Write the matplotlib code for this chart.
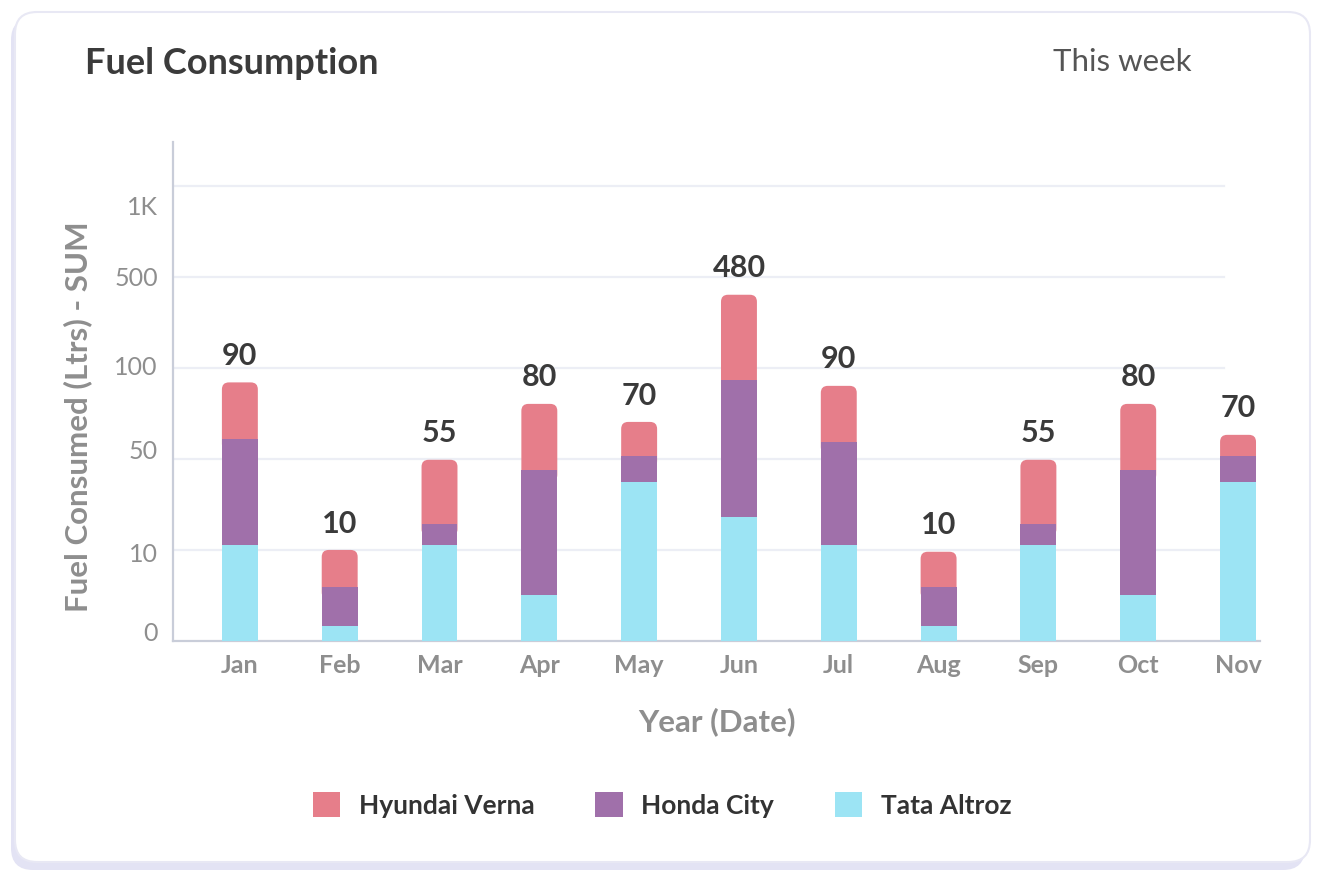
import matplotlib
matplotlib.use('Agg')
import matplotlib.pyplot as plt
import numpy as np
from matplotlib.patches import FancyBboxPatch
from matplotlib.transforms import ScaledTranslation, IdentityTransform

plt.rcParams['font.family'] = ['Lato', 'DejaVu Sans']

# data
months = ['Jan', 'Feb', 'Mar', 'Apr', 'May', 'Jun', 'Jul', 'Aug', 'Sep', 'Oct', 'Nov']
series_names = ['Hyundai Verna', 'Honda City', 'Tata Altroz']
tata = [12, 1.7, 12.2, 5.1, 40, 24.3, 12.2, 1.7, 12.2, 5.1, 40]
honda = [49, 4.2, 9.1, 40.1, 11.6, 69.1, 47.1, 4.2, 9.1, 40.1, 11.6]
hyundai = [31, 4.1, 28.3, 35, 18.7, 327.6, 30.8, 3.9, 28.3, 35, 11.6]
total_labels = [90, 10, 55, 80, 70, 480, 90, 10, 55, 80, 70]
tick_vals = [0, 10, 50, 100, 500, 1000]
tick_text = ['0', '10', '50', '100', '500', '1K']

# axis break points (evenly spaced on screen)
scale_vals = [0, 10, 50, 100, 500, 1000, 2000]
ytick_nudge_pt = [6.5, -2, 7, 2, 0, -14]

c_hyu = '#e67e8a'
c_hon = '#a070aa'
c_tata = '#9ce4f4'
grey = '#8e8e8e'

W, H = 1320, 872
fig = plt.figure(figsize=(W / 100, H / 100), dpi=100)
fig.patch.set_facecolor('white')

# card + shadow (pixel coords)
shadow = FancyBboxPatch((11, 2), 1294, 852, boxstyle='round,pad=0,rounding_size=22',
                        transform=IdentityTransform(), facecolor='#e3e3f4', edgecolor='none', zorder=-2)
card = FancyBboxPatch((15, 10), 1295, 850, boxstyle='round,pad=0,rounding_size=22',
                      transform=IdentityTransform(), facecolor='white', edgecolor='#e8e8f4',
                      linewidth=1.5, zorder=-1)
fig.patches.extend([shadow, card])

ax = fig.add_axes([173 / W, 1 - 641 / H, (1260 - 173) / W, (641 - 142) / H])
ax.set_facecolor('none')


def fwd(v):
    return np.interp(v, scale_vals, np.arange(len(scale_vals)))


def inv(u):
    return np.interp(u, np.arange(len(scale_vals)), scale_vals)


ax.set_yscale('function', functions=(fwd, inv))
ax.set_ylim(0, 1480)
ax.set_xlim(-0.67, 10.22)

x = np.arange(len(months))
w = 0.36
b_tata = ax.bar(x, tata, w, color=c_tata, zorder=3)
b_hon = ax.bar(x, honda, w, bottom=tata, color=c_hon, zorder=3)
bot = np.add(tata, honda)
b_hyu = ax.bar(x, hyundai, w, bottom=bot, color=c_hyu, zorder=2)

for v in tick_vals[1:]:
    ax.axhline(v, xmin=0, xmax=0.967, color='#eceef5', lw=1.6, zorder=1)

for s in ['top', 'right']:
    ax.spines[s].set_visible(False)
for s in ['left', 'bottom']:
    ax.spines[s].set_color('#c9cdd9')
    ax.spines[s].set_linewidth(1.6)

ax.set_yticks(tick_vals)
ax.set_yticklabels(tick_text)
ax.set_xticks(x)
ax.set_xticklabels(months)
ax.tick_params(axis='y', length=0, pad=11, labelsize=18, labelcolor=grey)
ax.tick_params(axis='x', length=0, pad=9, labelsize=18, labelcolor=grey)
for lab in ax.get_xticklabels():
    lab.set_fontweight('bold')
for lab, dy in zip(ax.get_yticklabels(), ytick_nudge_pt):
    lab.set_transform(lab.get_transform() + ScaledTranslation(0, dy / 72, fig.dpi_scale_trans))

ax.set_xlabel('Year (Date)', fontsize=22.5, fontweight='bold', color=grey)
ax.set_ylabel('Fuel Consumed (Ltrs) - SUM', fontsize=22.5, fontweight='bold', color=grey)
ax.xaxis.set_label_coords(0.5, -0.133)
ax.yaxis.set_label_coords(-0.074, 0.449)

tops = bot + np.array(hyundai)
for xi, t, lbl in zip(x, tops, total_labels):
    ax.annotate(str(lbl), (xi, t), xytext=(0, 19), textcoords='offset points',
                ha='center', va='center', fontsize=22, color='#3a3a3a', fontweight='bold')

fig.text(85 / W, 1 - 63 / H, 'Fuel Consumption', fontsize=26, fontweight='bold',
         color='#3b3b3b', va='center', ha='left')
fig.text(1192 / W, 1 - 62 / H, 'This week', fontsize=22.5, color='#555555', va='center', ha='right')

ax.legend(handles=[b_hyu, b_hon, b_tata], labels=series_names, loc='center',
          bbox_to_anchor=(662 / W, 1 - 805 / H), bbox_transform=fig.transFigure,
          ncol=3, frameon=False, prop={'size': 19, 'weight': 'bold'},
          labelcolor='#333333', handlelength=1.05, handleheight=1.05,
          handletextpad=0.7, columnspacing=2.3)

# rounded caps on the top segments
fig.canvas.draw()
rend = fig.canvas.get_renderer()
for rect in b_hyu.patches:
    bb = rect.get_window_extent(rend)
    cap = FancyBboxPatch((bb.x0, bb.y0 - 12), bb.width, bb.height + 12,
                         boxstyle='round,pad=0,rounding_size=7', transform=IdentityTransform(),
                         facecolor=c_hyu, edgecolor='none', zorder=2.5)
    ax.add_patch(cap)
    rect.set_visible(False)

fig.savefig('out.png', dpi=100)
